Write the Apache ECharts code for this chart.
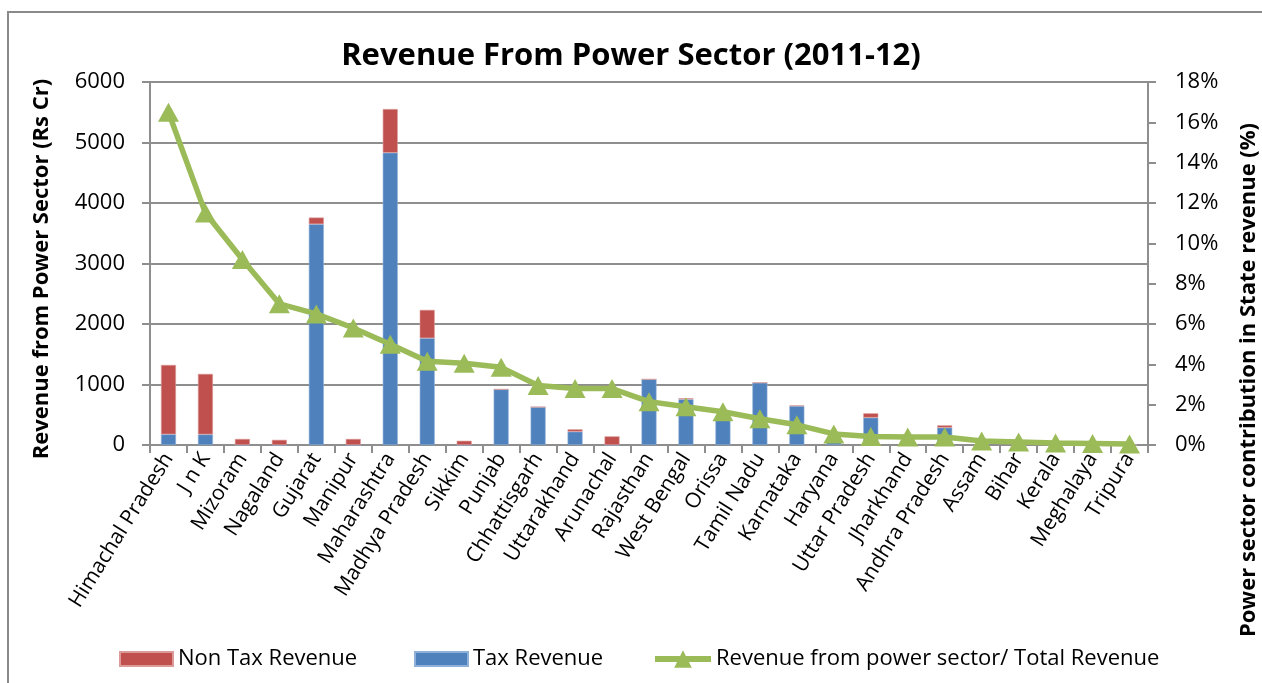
<!DOCTYPE html>
<html>
<head>
<meta charset="utf-8">
<title>Revenue From Power Sector (2011-12)</title>
<script src="https://cdn.jsdelivr.net/npm/echarts@6/dist/echarts.min.js"></script>
<style>
  html, body { margin: 0; padding: 0; background: #fff; }
  #chart { width: 1262px; height: 683px; }
</style>
</head>
<body>
<div id="chart"></div>
<script>
// States, ordered by power sector share of state revenue
const states = [
  'Himachal Pradesh', 'J n K', 'Mizoram', 'Nagaland', 'Gujarat', 'Manipur',
  'Maharashtra', 'Madhya Pradesh', 'Sikkim', 'Punjab', 'Chhattisgarh',
  'Uttarakhand', 'Arunachal', 'Rajasthan', 'West Bengal', 'Orissa',
  'Tamil Nadu', 'Karnataka', 'Haryana', 'Uttar Pradesh', 'Jharkhand',
  'Andhra Pradesh', 'Assam', 'Bihar', 'Kerala', 'Meghalaya', 'Tripura'
];

// Tax revenue from power sector (Rs Cr)
const taxRevenue = [
  177, 175, 0, 0, 3650, 0, 4830, 1765, 0, 920, 628,
  220, 0, 1086, 755, 470, 1030, 645, 50, 452, 0,
  286, 0, 0, 0, 0, 0
];

// Non tax revenue from power sector (Rs Cr)
const nonTaxRevenue = [
  1146, 1000, 100, 85, 110, 100, 723, 468, 70, 0, 0,
  39, 143, 0, 17, 0, 0, 10, 0, 72, 0,
  39, 0, 0, 0, 0, 0
];

// Revenue from power sector as % of total state revenue
const shareOfRevenue = [
  16.5, 11.5, 9.2, 7.0, 6.5, 5.8, 5.0, 4.15, 4.05, 3.85, 2.95,
  2.8, 2.8, 2.15, 1.9, 1.65, 1.3, 1.0, 0.55, 0.42, 0.4,
  0.4, 0.2, 0.15, 0.1, 0.08, 0.05
];

const FONT = '"Open Sans", "Noto Sans", "Liberation Sans", sans-serif';
const GRID_GRAY = '#8e8e8e';
const RED = '#C0504D';
const BLUE = '#4F81BD';
const GREEN = '#9BBB59';

const chart = echarts.init(document.getElementById('chart'), null, { renderer: 'canvas' });

const legendText = { fontFamily: FONT, fontSize: 22, color: '#000' };

chart.setOption({
  backgroundColor: '#fff',
  animation: false,
  textStyle: { fontFamily: FONT },
  title: {
    text: 'Revenue From Power Sector (2011-12)',
    left: 'center',
    top: 36,
    textStyle: { fontFamily: FONT, fontSize: 31, fontWeight: 'bold', color: '#000' }
  },
  legend: [
    {
      data: ['Non Tax Revenue'], left: 114, top: 643,
      itemWidth: 53, itemHeight: 14, icon: 'rect', textStyle: legendText
    },
    {
      data: ['Tax Revenue'], left: 409, top: 643,
      itemWidth: 53, itemHeight: 14, icon: 'rect', textStyle: legendText
    },
    {
      data: ['Revenue from power sector/ Total Revenue'], left: 647, top: 643,
      itemWidth: 56, itemHeight: 22,
      lineStyle: { width: 6 },
      textStyle: legendText
    }
  ],
  grid: { left: 150, right: 114, top: 82, bottom: 238, containLabel: false },
  xAxis: {
    type: 'category',
    data: states,
    boundaryGap: true,
    axisLine: { lineStyle: { color: GRID_GRAY, width: 2 } },
    axisTick: { show: true, interval: 0, length: 8, lineStyle: { color: GRID_GRAY, width: 2 } },
    axisLabel: {
      interval: 0, rotate: 58, margin: 10,
      fontFamily: FONT, fontSize: 21, color: '#000'
    }
  },
  yAxis: [
    {
      type: 'value',
      min: 0, max: 6000, interval: 1000,
      axisLine: { show: true, lineStyle: { color: GRID_GRAY, width: 2 } },
      axisTick: { show: true, length: 8, lineStyle: { color: GRID_GRAY, width: 2 } },
      splitLine: { show: true, lineStyle: { color: GRID_GRAY, width: 2 } },
      axisLabel: {
        margin: 25, formatter: v => String(v),
        fontFamily: FONT, fontSize: 22, color: '#000'
      }
    },
    {
      type: 'value',
      min: 0, max: 18, interval: 2,
      position: 'right',
      axisLine: { show: true, lineStyle: { color: GRID_GRAY, width: 2 } },
      axisTick: { show: true, length: 8, lineStyle: { color: GRID_GRAY, width: 2 } },
      splitLine: { show: false },
      axisLabel: { margin: 27, formatter: '{value}%', fontFamily: FONT, fontSize: 22, color: '#000' }
    }
  ],
  series: [
    {
      name: 'Tax Revenue',
      type: 'bar',
      stack: 'revenue',
      barWidth: 15,
      yAxisIndex: 0,
      itemStyle: { color: BLUE, borderColor: '#8fb0d8', borderWidth: 0.6 },
      data: taxRevenue,
      z: 2
    },
    {
      name: 'Non Tax Revenue',
      type: 'bar',
      stack: 'revenue',
      barWidth: 15,
      yAxisIndex: 0,
      itemStyle: { color: RED, borderColor: '#dc9a98', borderWidth: 0.6 },
      data: nonTaxRevenue,
      z: 2
    },
    {
      name: 'Revenue from power sector/ Total Revenue',
      type: 'line',
      yAxisIndex: 1,
      data: shareOfRevenue,
      symbol: 'triangle',
      symbolSize: [21, 19],
      lineStyle: { color: GREEN, width: 5.5 },
      itemStyle: { color: GREEN },
      z: 5
    }
  ],
  graphic: [
    {
      // chart frame
      type: 'rect',
      shape: { x: 8, y: 12, width: 1300, height: 700 },
      style: { fill: null, stroke: '#8a8a8a', lineWidth: 2 },
      silent: true, z: -1
    },
    {
      type: 'text',
      x: 42, y: 269,
      rotation: Math.PI / 2,
      style: {
        text: 'Revenue from Power Sector (Rs Cr)',
        align: 'center', verticalAlign: 'middle',
        font: 'bold 22px ' + FONT, fill: '#000'
      }
    },
    {
      type: 'text',
      x: 1249, y: 380,
      rotation: Math.PI / 2,
      style: {
        text: 'Power sector contribution in State revenue (%)',
        align: 'center', verticalAlign: 'middle',
        font: 'bold 22px ' + FONT, fill: '#000'
      }
    }
  ]
});
</script>
</body>
</html>
